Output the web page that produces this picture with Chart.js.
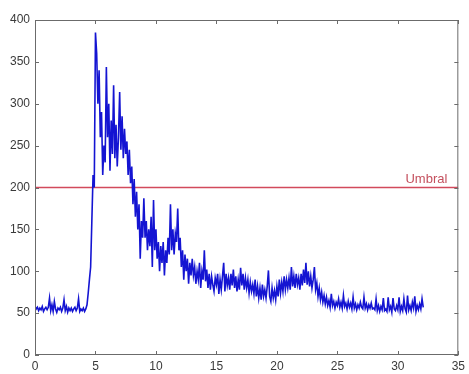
<!DOCTYPE html>
<html>
<head>
<meta charset="utf-8">
<script src="https://cdn.jsdelivr.net/npm/chart.js@4/dist/chart.umd.min.js"></script>
<style>
  html, body { margin: 0; padding: 0; background: #fff; }
  #wrap { width: 469px; height: 374px; }
</style>
</head>
<body>
<div id="wrap"><canvas id="mainChart"></canvas></div>
<script>
const ctx = document.getElementById("mainChart");

/* DATA */
const sampleStart = 0;
const sampleStep = 0.1;
const signal = [
  58, 55, 57, 53, 56, 54, 58, 52, 55, 57,
  54, 57, 68, 53, 60, 52, 64, 55, 51, 56,
  54, 57, 52, 56, 66, 53, 58, 51, 56, 53,
  56, 52, 55, 57, 53, 56, 67, 52, 55, 53,
  56, 52, 55, 60, 74, 90, 105, 160, 215, 200,
  385, 360, 300, 340, 260, 290, 215, 250, 230, 344,
  260, 300, 220, 280, 240, 322, 235, 275, 225, 260,
  314, 245, 285, 235, 270, 240, 255, 215, 245, 205,
  225, 180, 210, 165, 195, 150, 180, 115, 160, 140,
  187, 140, 160, 125, 150, 130, 165, 105, 185, 125,
  150, 115, 135, 100, 130, 110, 135, 95, 125, 110,
  140, 120, 180, 125, 150, 120, 145, 135, 175, 125,
  140, 105, 125, 90, 120, 100, 115, 85, 110, 95,
  115, 95, 105, 85, 100, 90, 110, 80, 100, 90,
  125, 88, 102, 80, 97, 78, 94, 84, 76, 92,
  84, 97, 73, 90, 78, 94, 110, 76, 97, 83,
  92, 78, 97, 83, 102, 80, 94, 76, 90, 78,
  104, 83, 97, 78, 92, 80, 90, 74, 87, 76,
  84, 73, 90, 70, 82, 68, 80, 66, 84, 70,
  78, 68, 82, 101, 70, 64, 80, 68, 77, 66,
  82, 70, 90, 74, 87, 76, 94, 78, 90, 80,
  92, 78, 105, 82, 94, 80, 97, 84, 92, 78,
  97, 83, 102, 86, 110, 84, 100, 82, 94, 80,
  90, 105, 78, 86, 70, 80, 66, 75, 63, 71,
  61, 69, 59, 65, 57, 73, 59, 64, 56, 63,
  59, 67, 57, 63, 56, 71, 58, 62, 55, 64,
  57, 62, 55, 69, 56, 61, 54, 60, 56, 63,
  57, 55, 69, 56, 61, 54, 60, 56, 62, 55,
  56, 54, 67, 53, 59, 52, 58, 54, 68, 53,
  55, 52, 69, 54, 58, 51, 68, 55, 53, 59,
  54, 69, 52, 58, 53, 67, 55, 51, 71, 54,
  59, 53, 63, 56, 70, 52, 59, 54, 61, 55,
  67, 57
];
const threshold = 200;
const thresholdLabel = "Umbral";
const xTicks = [0, 5, 10, 15, 20, 25, 30, 35];
const yTicks = [0, 50, 100, 150, 200, 250, 300, 350, 400];

const signalPoints = signal.map((v, i) => ({ x: sampleStart + i * sampleStep, y: v }));
const thresholdPoints = [
  { x: xTicks[0], y: threshold },
  { x: xTicks[xTicks.length - 1], y: threshold }
];

/* MATLAB-like box, inward ticks, threshold label */
const matlabBox = {
  id: "matlabBox",
  afterDatasetsDraw(chart) {
    const { ctx, chartArea: a, scales: { x, y } } = chart;
    ctx.save();
    ctx.strokeStyle = "#6b6b6b";
    ctx.lineWidth = 1;
    ctx.strokeRect(a.left + 0.5, a.top + 0.5, a.right - a.left - 1, a.bottom - a.top - 1);
    ctx.beginPath();
    xTicks.forEach(v => {
      const px = Math.round(x.getPixelForValue(v)) + 0.5;
      ctx.moveTo(px, a.bottom); ctx.lineTo(px, a.bottom - 4);
      ctx.moveTo(px, a.top); ctx.lineTo(px, a.top + 4);
    });
    yTicks.forEach(v => {
      const py = Math.round(y.getPixelForValue(v)) + 0.5;
      ctx.moveTo(a.left, py); ctx.lineTo(a.left + 4, py);
      ctx.moveTo(a.right, py); ctx.lineTo(a.right - 4, py);
    });
    ctx.stroke();

    ctx.fillStyle = "#c4505e";
    ctx.font = "13px 'Liberation Sans', Arial, sans-serif";
    ctx.textAlign = "right";
    ctx.textBaseline = "bottom";
    ctx.fillText(thresholdLabel, a.right - 11, y.getPixelForValue(threshold) - 2);
    ctx.restore();
  }
};

const tickFont = { family: "'Liberation Sans', Arial, sans-serif", size: 12 };

new Chart(ctx, {
  type: "line",
  data: {
    datasets: [
      {
        data: signalPoints,
        borderColor: "rgb(20,20,210)",
        borderWidth: 1.6,
        pointRadius: 0,
        tension: 0
      },
      {
        data: thresholdPoints,
        borderColor: "#d24a5c",
        backgroundColor: "#d24a5c",
        borderWidth: 1.5,
        pointRadius: 0,
        fill: false
      }
    ]
  },
  options: {
    responsive: true,
    maintainAspectRatio: false,
    animation: false,
    layout: { padding: { top: 20, right: 6, left: 0, bottom: 0 } },
    plugins: { legend: { display: false }, tooltip: { enabled: false } },
    scales: {
      x: {
        type: "linear",
        min: 0,
        max: 35,
        afterBuildTicks: s => { s.ticks = xTicks.map(v => ({ value: v })); },
        afterFit: s => { s.height = 19; },
        ticks: { color: "#3a3a3a", font: tickFont, padding: 4, maxRotation: 0 },
        grid: { display: false, drawTicks: false },
        border: { display: false }
      },
      y: {
        min: 0,
        max: 400,
        afterBuildTicks: s => { s.ticks = yTicks.map(v => ({ value: v })); },
        afterFit: s => { s.width = 35; },
        ticks: { color: "#3a3a3a", font: tickFont, padding: 5 },
        grid: { display: false, drawTicks: false },
        border: { display: false }
      }
    }
  },
  plugins: [matlabBox]
});
</script>
</body>
</html>
